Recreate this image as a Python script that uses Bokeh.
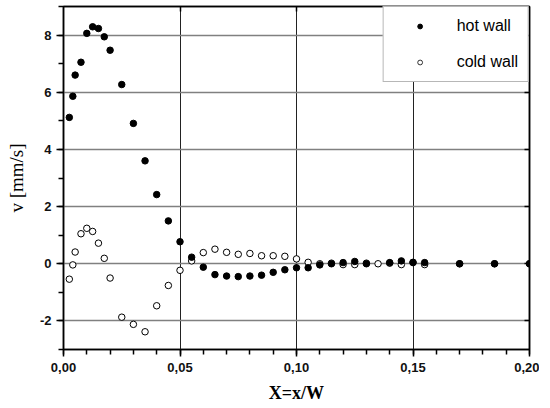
from bokeh.plotting import figure
from bokeh.models import (FixedTicker, CustomJSTickFormatter, LinearAxis, Legend,
                          LegendItem, Range1d, ColumnDataSource)
from bokeh.embed import file_html
from bokeh.resources import INLINE

# ---- data ----
hot_x = [0.0025, 0.004, 0.005, 0.0075, 0.01, 0.0125, 0.015, 0.0175, 0.02, 0.025, 0.03,
         0.035, 0.04, 0.045, 0.05, 0.055, 0.06, 0.065, 0.07, 0.075, 0.08, 0.085, 0.09,
         0.095, 0.10, 0.105, 0.11, 0.115, 0.12, 0.125, 0.13, 0.14, 0.145, 0.15, 0.155,
         0.17, 0.185, 0.20]
hot_v = [5.12, 5.86, 6.6, 7.05, 8.06, 8.29, 8.23, 7.94, 7.47, 6.27, 4.91,
         3.6, 2.42, 1.5, 0.77, 0.23, -0.12, -0.38, -0.43, -0.45, -0.43, -0.4, -0.3,
         -0.21, -0.14, -0.14, -0.04, 0.0, 0.04, 0.08, 0.0, 0.04, 0.1, 0.05, 0.04,
         0.0, 0.0, 0.0]
cold_x = [0.0025, 0.004, 0.005, 0.0075, 0.01, 0.0125, 0.015, 0.0175, 0.02, 0.025, 0.03,
          0.035, 0.04, 0.045, 0.05, 0.055, 0.06, 0.065, 0.07, 0.075, 0.08, 0.085, 0.09,
          0.095, 0.10, 0.105, 0.11, 0.115, 0.12, 0.125, 0.13, 0.135, 0.14, 0.145, 0.15,
          0.155, 0.17, 0.185, 0.20]
cold_v = [-0.54, -0.04, 0.41, 1.05, 1.24, 1.13, 0.72, 0.19, -0.5, -1.87, -2.12,
          -2.38, -1.47, -0.76, -0.23, 0.1, 0.39, 0.51, 0.4, 0.33, 0.36, 0.28, 0.28,
          0.26, 0.17, 0.05, 0.0, 0.02, -0.03, -0.03, 0.02, 0.0, 0.02, -0.03, 0.04,
          -0.03, 0.0, 0.0, 0.0]

x_major = [0.0, 0.05, 0.10, 0.15, 0.20]
x_minor = [0.0, 0.01, 0.02, 0.03, 0.04, 0.05, 0.06, 0.07, 0.08, 0.09, 0.10,
           0.11, 0.12, 0.13, 0.14, 0.15, 0.16, 0.17, 0.18, 0.19, 0.20]
y_major = [-2, 0, 2, 4, 6, 8]
y_minor = [-3, -2, -1, 0, 1, 2, 3, 4, 5, 6, 7, 8, 9]

p = figure(frame_width=466, frame_height=343, output_backend="svg", toolbar_location=None,
           x_range=Range1d(0, 0.20), y_range=Range1d(-3, 9),
           min_border_left=63, min_border_right=10, min_border_top=6, min_border_bottom=50,
           x_axis_label="X=x/W", y_axis_label="v [mm/s]")

p.outline_line_color = "black"
p.outline_line_width = 1.5
p.background_fill_color = "white"
p.border_fill_color = "white"

# grids
p.xgrid.ticker = FixedTicker(ticks=[0.05, 0.10, 0.15])
p.xgrid.grid_line_color = "#222222"
p.xgrid.grid_line_width = 1
p.ygrid.ticker = FixedTicker(ticks=y_major)
p.ygrid.grid_line_color = "#808080"
p.ygrid.grid_line_width = 1.5

fmt_x = CustomJSTickFormatter(code="return tick.toFixed(2).replace('.', ',');")
fmt_y = CustomJSTickFormatter(code="return tick.toFixed(0);")
fmt_none = CustomJSTickFormatter(code="return '';")

for ax in p.xaxis:
    ax.ticker = FixedTicker(ticks=x_major, minor_ticks=x_minor)
    ax.formatter = fmt_x
for ax in p.yaxis:
    ax.ticker = FixedTicker(ticks=y_major, minor_ticks=y_minor)
    ax.formatter = fmt_y

for ax in p.axis:
    ax.axis_line_color = "black"
    ax.axis_line_width = 1.5
    ax.major_tick_line_color = "black"
    ax.minor_tick_line_color = "black"
    ax.major_tick_line_width = 1.5
    ax.minor_tick_line_width = 1.5
    ax.major_tick_in = 0
    ax.major_tick_out = 7
    ax.minor_tick_in = 0
    ax.minor_tick_out = 5
    ax.major_label_text_font = "Liberation Sans"
    ax.major_label_text_font_style = "bold"
    ax.major_label_text_font_size = "13px"
    ax.major_label_text_color = "#111111"
    ax.axis_label_text_font = "Liberation Serif"
    ax.axis_label_text_color = "black"

p.xaxis.major_label_standoff = 6
p.xaxis.axis_label_standoff = 8
p.xaxis.axis_label_text_font_style = "bold"
p.xaxis.axis_label_text_font_size = "18px"
p.yaxis.major_label_standoff = 5
p.yaxis.axis_label_standoff = 10
p.yaxis.axis_label_text_font_style = "normal"
p.yaxis.axis_label_text_font_size = "19px"

# top and right axes: inward ticks, no labels
top = LinearAxis(ticker=FixedTicker(ticks=[0.05, 0.10, 0.15]), formatter=fmt_none,
                 major_tick_in=5, major_tick_out=0,
                 minor_tick_in=0, minor_tick_out=0, axis_line_color="black",
                 axis_line_width=1.5, major_tick_line_width=1.5, major_label_standoff=0)
right = LinearAxis(ticker=FixedTicker(ticks=y_major), formatter=fmt_none,
                   major_tick_in=5, major_tick_out=0,
                   minor_tick_in=0, minor_tick_out=0, axis_line_color="black",
                   axis_line_width=1.5, major_tick_line_width=1.5, major_label_standoff=0)
p.add_layout(top, "above")
p.add_layout(right, "right")

# data
hot_src = ColumnDataSource(dict(x=hot_x, v=hot_v))
cold_src = ColumnDataSource(dict(x=cold_x, v=cold_v))
p.scatter("x", "v", source=cold_src, size=6.5, fill_color="white",
          line_color="black", line_width=1)
p.scatter("x", "v", source=hot_src, size=6.5, fill_color="black",
          line_color="black")

# legend
r_hot_leg = p.scatter([float("nan")], [float("nan")], size=5, fill_color="black",
                      line_color="black")
r_cold_leg = p.scatter([float("nan")], [float("nan")], size=4.5, fill_color="white",
                       line_color="black", line_width=0.8)
legend = Legend(items=[LegendItem(label="hot wall", renderers=[r_hot_leg]),
                       LegendItem(label="cold wall", renderers=[r_cold_leg])],
                location="top_right", margin=0, padding=10, spacing=18,
                glyph_width=52, glyph_height=12, label_height=12, label_standoff=11,
                label_text_font="Liberation Sans", label_text_font_size="16px",
                label_text_color="black",
                border_line_color="#707070", border_line_width=1.5,
                background_fill_color="white", background_fill_alpha=1.0)
p.add_layout(legend)

open("out.html", "w").write(file_html(p, INLINE))
